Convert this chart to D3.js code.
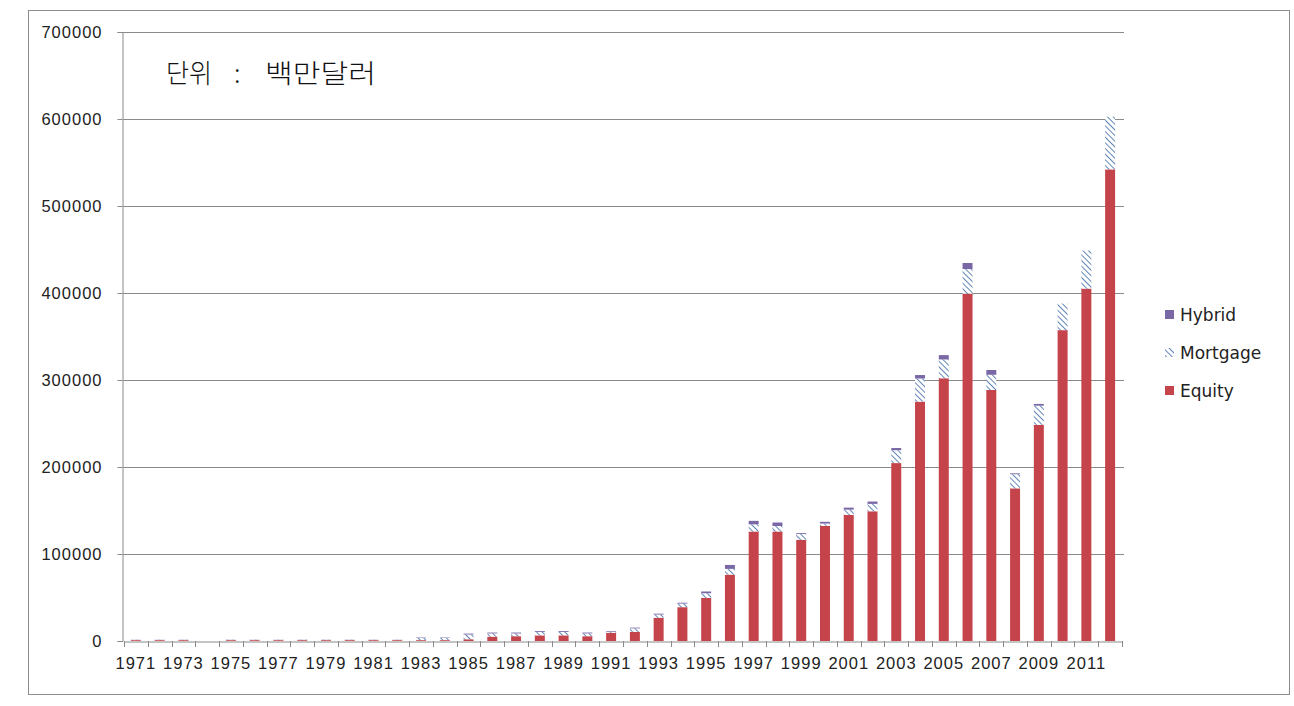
<!DOCTYPE html>
<html>
<head>
<meta charset="utf-8">
<script src="https://cdnjs.cloudflare.com/ajax/libs/d3/7.8.5/d3.min.js"></script>
<style>
  body { margin: 0; background: #fff; }
  svg { display: block; }
</style>
</head>
<body>
<div id="chart"></div>
<script>
// 연도 (1971 ~ 2012)
const years = d3.range(1971, 2013).map(String);

// 단위 : 백만달러
const equity = [
  1000, 1000, 1000, 0, 1000, 1000, 1000, 1000, 1000, 1000, 1000, 1000,
  1000, 1000, 2000, 5000, 5500, 6500, 6500, 5500, 9500, 10500,
  26800, 38900, 49700, 76300, 125900, 125900, 116400, 132400, 145000, 149100,
  204500, 275100, 302000, 399200, 288500, 175500, 248500, 357300, 405100, 542100
];
const mortgage = [
  400, 400, 400, 0, 400, 400, 400, 400, 400, 400, 400, 400,
  2500, 2500, 5500, 3700, 3200, 4000, 4000, 3200, 1200, 4000,
  3600, 4100, 5200, 6600, 8200, 6300, 6600, 2600, 6000, 8500,
  14800, 26600, 21600, 28300, 17500, 16200, 22000, 30600, 43800, 60500
];
const hybrid = [
  200, 200, 200, 0, 200, 200, 200, 200, 200, 200, 200, 200,
  500, 500, 1000, 1000, 1000, 1000, 1000, 1000, 800, 900,
  1000, 1000, 2000, 4500, 4000, 4000, 1000, 2000, 2300, 2700,
  2500, 4000, 5000, 7000, 5500, 1000, 2000, 0, 0, 0
];

const seriesKeys = ["Equity", "Mortgage", "Hybrid"];
const yTicks = [0, 100000, 200000, 300000, 400000, 500000, 600000, 700000];

const width = 1294, height = 706;
const plot = { left: 124, right: 1122, top: 32, bottom: 641 };

const rows = years.map((y, i) => ({
  year: y, Equity: equity[i], Mortgage: mortgage[i], Hybrid: hybrid[i]
}));
const stacked = d3.stack().keys(seriesKeys)(rows);

const svg = d3.select("#chart").append("svg")
  .attr("width", width).attr("height", height)
  .attr("font-family", "'DejaVu Sans', sans-serif");

// 빗금 패턴 (Mortgage)
const defs = svg.append("defs");
const pat = defs.append("pattern")
  .attr("id", "hatch")
  .attr("patternUnits", "userSpaceOnUse")
  .attr("width", 4).attr("height", 4)
  .attr("patternTransform", "rotate(-45)");
pat.append("rect").attr("width", 4).attr("height", 4).attr("fill", "#fff");
pat.append("line")
  .attr("x1", 0).attr("y1", 0).attr("x2", 0).attr("y2", 4)
  .attr("stroke", "#2f5f9f").attr("stroke-width", 1.5);

const colors = { Equity: "#c5434a", Mortgage: "url(#hatch)", Hybrid: "#7a68a6" };

// 바깥 테두리
svg.append("rect")
  .attr("x", 28.5).attr("y", 10.5)
  .attr("width", 1261).attr("height", 684)
  .attr("fill", "none").attr("stroke", "#8c8c8c").attr("stroke-width", 1);

const x = d3.scaleBand()
  .domain(years)
  .range([plot.left, plot.right])
  .paddingInner(0.58).paddingOuter(0.29);

const y = d3.scaleLinear()
  .domain([0, 700000])
  .range([plot.bottom, plot.top]);

// 눈금선
svg.append("g")
  .selectAll("line")
  .data(yTicks.filter(d => d > 0))
  .join("line")
  .attr("x1", plot.left - 1).attr("x2", plot.right + 2)
  .attr("y1", d => Math.round(y(d)) + 0.5).attr("y2", d => Math.round(y(d)) + 0.5)
  .attr("stroke", "#8a8a8a").attr("stroke-width", 1);

// 막대
svg.append("g")
  .selectAll("g")
  .data(stacked)
  .join("g")
  .attr("fill", d => colors[d.key])
  .selectAll("rect")
  .data(d => d)
  .join("rect")
  .attr("x", d => x(d.data.year))
  .attr("width", x.bandwidth())
  .attr("y", d => y(d[1]))
  .attr("height", d => Math.max(0, y(d[0]) - y(d[1])));

// Y축
const yAxis = svg.append("g")
  .attr("transform", `translate(${plot.left - 1.5},0)`)
  .call(d3.axisLeft(y).tickValues(yTicks).tickFormat(d3.format("d")).tickSize(5).tickPadding(15));
yAxis.select(".domain").attr("stroke", "#8a8a8a");
yAxis.selectAll(".tick line").attr("stroke", "#8a8a8a");
yAxis.selectAll("text").attr("font-size", 16.5).attr("letter-spacing", 1).attr("fill", "#222");

// X축
const xAxis = svg.append("g")
  .attr("transform", `translate(0,${plot.bottom + 0.5})`)
  .call(d3.axisBottom(x).tickValues(years.filter((d, i) => i % 2 === 0)).tickSize(0).tickPadding(16));
xAxis.select(".domain").attr("stroke", "#8a8a8a");
xAxis.selectAll("text").attr("font-size", 16.5).attr("letter-spacing", 1).attr("fill", "#222");

// 카테고리 경계 눈금
svg.append("g")
  .selectAll("line")
  .data(d3.range(years.length + 1))
  .join("line")
  .attr("x1", i => Math.round(plot.left + i * x.step()) + 0.5)
  .attr("x2", i => Math.round(plot.left + i * x.step()) + 0.5)
  .attr("y1", plot.bottom).attr("y2", plot.bottom + 6)
  .attr("stroke", "#8a8a8a");

// 단위 표기
const unit = svg.append("g")
  .attr("font-family", "'Noto Sans CJK KR', sans-serif")
  .attr("font-weight", 300)
  .attr("font-size", 26)
  .attr("fill", "#111");
unit.append("text").attr("x", 166).attr("y", 83)
  .attr("textLength", 46).attr("lengthAdjust", "spacingAndGlyphs").text("단위");
unit.append("text").attr("x", 234).attr("y", 83).text(":");
unit.append("text").attr("x", 265).attr("y", 83)
  .attr("textLength", 111).attr("lengthAdjust", "spacingAndGlyphs").text("백만달러");

// 범례
const legendItems = [
  { key: "Hybrid", y: 315 },
  { key: "Mortgage", y: 353 },
  { key: "Equity", y: 391 }
];
const legend = svg.append("g");
legendItems.forEach(it => {
  legend.append("rect")
    .attr("x", 1165).attr("y", it.y - 5)
    .attr("width", 9).attr("height", 9)
    .attr("fill", colors[it.key]);
  legend.append("text")
    .attr("x", 1180).attr("y", it.y + 6)
    .attr("font-size", 17).attr("fill", "#222")
    .text(it.key);
});
</script>
</body>
</html>
